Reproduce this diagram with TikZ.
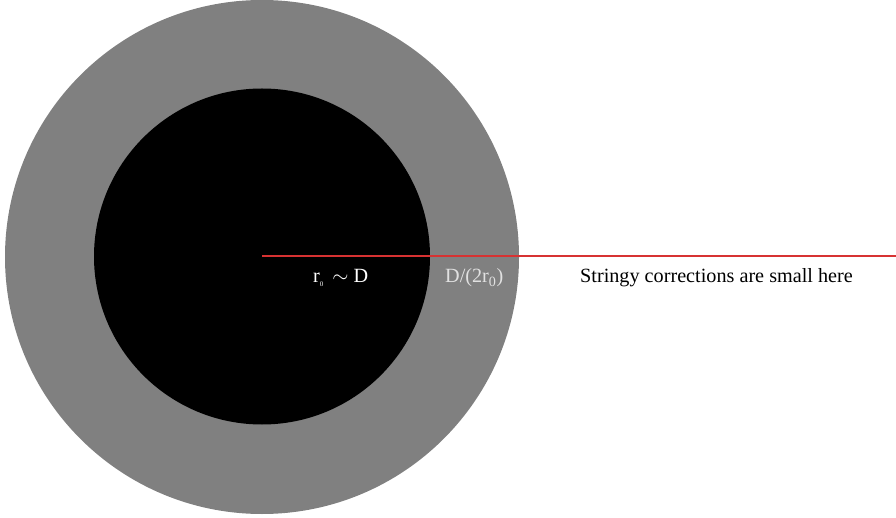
\documentclass[tikz,border=0pt]{standalone}
\usepackage{fontspec}
\setmainfont{Liberation Serif}
\begin{document}
\begin{tikzpicture}[x=1pt,y=-1pt,
  lbl/.style={inner sep=0pt,anchor=base west,font=\fontsize{20.2}{23}\selectfont}]
\useasboundingbox (0,0) rectangle (896,518);
\fill[fill={rgb,255:red,128;green,128;blue,128}] (262,257) circle[radius=257];
\fill[black] (262,256.5) circle[radius=168];
\coordinate (c) at (262,256);
\coordinate (e) at (896,256);
\draw[color={rgb,255:red,215;green,50;blue,50},line width=1.1pt] (c) -- (e);
\node[lbl,text=white] (r) at (313,283) {r\textsubscript{\scriptsize 0}\, $\sim$ D};
\node[lbl,text={rgb,255:red,225;green,225;blue,225}] (d) at (445,283) {D/(2r\textsubscript{0})};
\node[lbl,text=black] (s) at (580,283) {Stringy corrections are small here};
\end{tikzpicture}
\end{document}
